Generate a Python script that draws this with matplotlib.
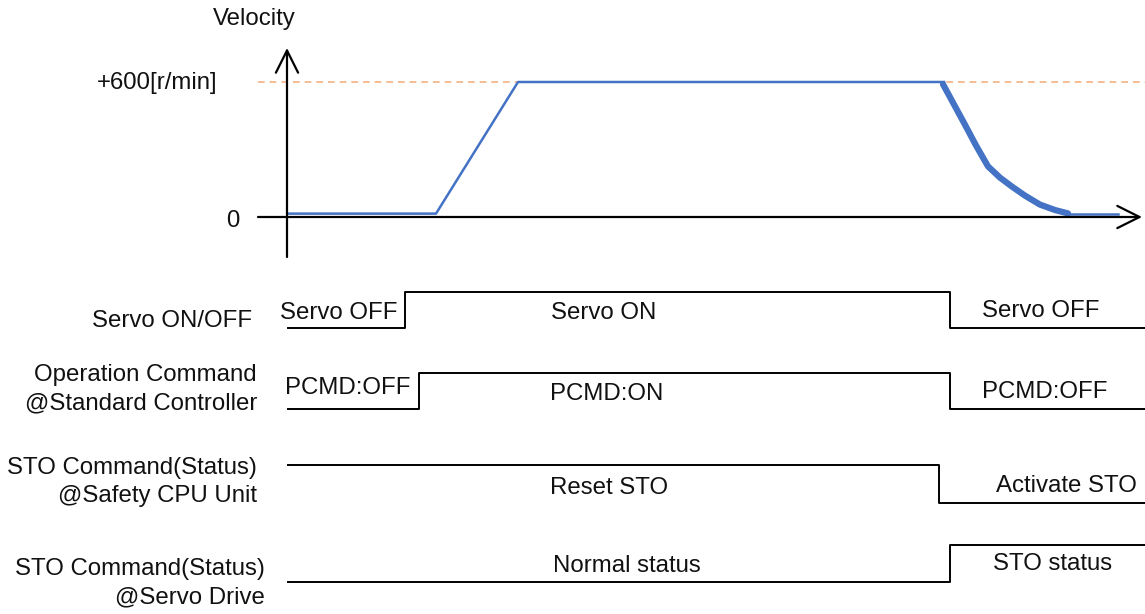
import matplotlib
matplotlib.use('Agg')
import matplotlib.pyplot as plt

W, H = 1145, 614

# velocity profile (time in px units, velocity in r/min)
t_accel = [288, 436, 518, 944]
v_accel = [15, 15, 600, 600]
t_decel = [943, 954, 965, 976, 988, 1000, 1012, 1025, 1040, 1055, 1068]
v_decel = [590, 500, 410, 318, 225, 175, 135, 95, 55, 31, 16]
t_stop = [1068, 1118]
v_stop = [15, 15]
v_max = 600

# timing signals: edge times and states (0 = low, 1 = high)
sig_names = ['Servo ON/OFF',
             'Operation Command\n@Standard Controller',
             'STO Command(Status)\n@Safety CPU Unit',
             'STO Command(Status)\n@Servo Drive']
sig_edges = [[288, 405, 950, 1145],
             [288, 419, 950, 1145],
             [288, 939, 1145],
             [288, 950, 1145]]
sig_states = [[0, 1, 0], [0, 1, 0], [1, 0], [0, 1]]
sig_texts = [['Servo OFF', 'Servo ON', 'Servo OFF'],
             ['PCMD:OFF', 'PCMD:ON', 'PCMD:OFF'],
             ['Reset STO', 'Activate STO'],
             ['Normal status', 'STO status']]

# layout (pixels)
row_levels = [(328, 292), (409, 373), (503, 465), (582, 545)]
name_pos = [(252, 321, 'right'), (257, 389, 'right'), (257, 482, 'right'), (265, 583, 'right')]
text_pos = [[(280, 313, 'left'), (604, 313, 'center'), (1041, 311, 'center')],
            [(285, 388, 'left'), (607, 394, 'center'), (1045, 392, 'center')],
            [(609, 488, 'center'), (1066, 486, 'center')],
            [(627, 566, 'center'), (1053, 564, 'center')]]

plt.rcParams['font.family'] = ['Liberation Sans', 'DejaVu Sans']
FS = 17.3
BLUE = '#4472C4'

fig = plt.figure(figsize=(W / 100, H / 100), dpi=100)
fig.patch.set_facecolor('white')


def ftxt(x, y, s, ha='center'):
    fig.text(x / W, 1 - y / H, s, ha=ha, va='center', fontsize=FS,
             color='#111111', linespacing=1.35)


# velocity panel
top_h = 260
px_per = (217 - 82) / v_max
ax_v = fig.add_axes([0, 1 - top_h / H, 1, top_h / H])
ax_v.set_xlim(0, W)
ax_v.set_ylim(-(top_h - 217) / px_per, 217 / px_per)
ax_v.axis('off')

ax_v.axhline(v_max, xmin=258 / W, xmax=1, color='#F4B183', lw=1.2,
             dashes=(4, 3))
arrow = dict(arrowstyle='->,head_length=0.8,head_width=0.4', lw=1.6,
             color='black', mutation_scale=20, shrinkA=0, shrinkB=0)
ax_v.annotate('', xy=(1142, 0), xytext=(258, 0), arrowprops=arrow)
ax_v.annotate('', xy=(287, (217 - 48) / px_per),
              xytext=(287, -(257 - 217) / px_per), arrowprops=arrow)
ax_v.plot(t_accel, v_accel, color=BLUE, lw=1.8)
ax_v.plot(t_decel, v_decel, color=BLUE, lw=4.5, solid_capstyle='round',
          solid_joinstyle='round')
ax_v.plot(t_stop, v_stop, color=BLUE, lw=1.8)

ftxt(254, 19, 'Velocity')
ftxt(218, 83, '+600[r/min]', ha='right')
ftxt(233, 221, '0')

# timing panel
ax_t = fig.add_axes([0, 0, 1, 1 - top_h / H])
ax_t.set_xlim(0, W)
ax_t.set_ylim(H, top_h)
ax_t.axis('off')

for i in range(len(sig_names)):
    edges = sig_edges[i]
    states = sig_states[i]
    low, high = row_levels[i]
    xs, ys = [], []
    for k, st in enumerate(states):
        y = high if st else low
        xs += [edges[k], edges[k + 1]]
        ys += [y, y]
    ax_t.plot(xs, ys, color='black', lw=1.4)
    nx, ny, nha = name_pos[i]
    ftxt(nx, ny, sig_names[i], ha=nha)
    for s, (x, y, ha) in zip(sig_texts[i], text_pos[i]):
        ftxt(x, y, s, ha=ha)

fig.savefig('out.png', dpi=100, facecolor='white')
